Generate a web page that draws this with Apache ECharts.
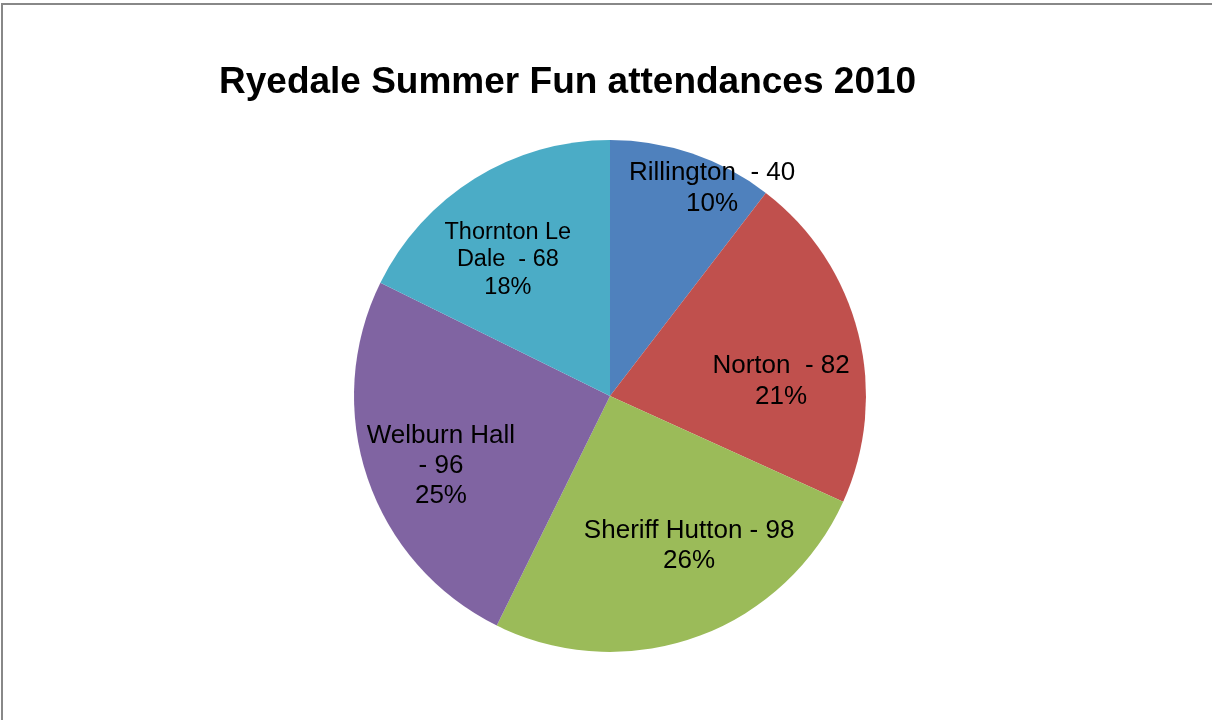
<!DOCTYPE html>
<html>
<head>
<meta charset="utf-8">
<script src="https://cdn.jsdelivr.net/npm/echarts@6/dist/echarts.min.js"></script>
<style>
  html, body { margin: 0; padding: 0; background: #ffffff; }
  #chart { position: absolute; left: 0; top: 0; width: 1212px; height: 720px; }
  #frame { position: absolute; left: 1px; top: 3px; width: 1400px; height: 900px;
           border-top: 2px solid #888888; border-left: 2px solid #888888; pointer-events: none; }
</style>
</head>
<body>
<div id="chart"></div>
<div id="frame"></div>
<script>
// ---- data ----
const titleText = 'Ryedale Summer Fun attendances 2010';
const categories = ['Rillington', 'Norton', 'Sheriff Hutton', 'Welburn Hall', 'Thornton Le Dale'];
const values = [40, 82, 98, 96, 68];
// label text as shown in the picture (line breaks / spacing)
const labelNames = ['Rillington ', 'Norton ', 'Sheriff Hutton', 'Welburn Hall', 'Thornton Le\nDale '];
const labelSeparators = [' - ', ' - ', ' - ', '\n- ', ' - '];

// ---- style ----
const colors = ['#4F81BD', '#C0504D', '#9BBB59', '#8064A2', '#4BACC6'];
const labelShift = [[60, -84], [44, 17], [35, 26], [-45, 28], [-33, -25]];
const labelFont = [26, 26, 26, 26, 23.5];
const labelLH = [31, 31, 30, 30, 27.5];

const chart = echarts.init(document.getElementById('chart'), null, { renderer: 'canvas' });

const data = categories.map((c, i) => ({
  name: c,
  value: values[i],
  itemStyle: { color: colors[i] },
  label: { fontSize: labelFont[i], lineHeight: labelLH[i] }
}));

chart.setOption({
  animation: false,
  backgroundColor: '#ffffff',
  title: {
    text: titleText,
    left: 214,
    top: 59,
    textStyle: { fontFamily: 'Liberation Sans, Arial, sans-serif', fontWeight: 'bold', fontSize: 37, color: '#000000' }
  },
  series: [{
    type: 'pie',
    center: [610, 396],
    radius: [0, 256],
    startAngle: 90,
    clockwise: true,
    percentPrecision: 0,
    avoidLabelOverlap: false,
    itemStyle: { borderWidth: 0 },
    emphasis: { disabled: true },
    label: {
      show: true,
      position: 'inside',
      color: '#000000',
      fontFamily: 'Liberation Sans, Arial, sans-serif',
      fontSize: 26,
      align: 'center',
      formatter: function (p) {
        return labelNames[p.dataIndex] + labelSeparators[p.dataIndex] + p.value + '\n' + p.percent + '%';
      }
    },
    labelLine: { show: false },
    labelLayout: function (p) {
      const s = labelShift[p.dataIndex];
      return { dx: s[0], dy: s[1] };
    },
    data: data
  }]
});
</script>
</body>
</html>
